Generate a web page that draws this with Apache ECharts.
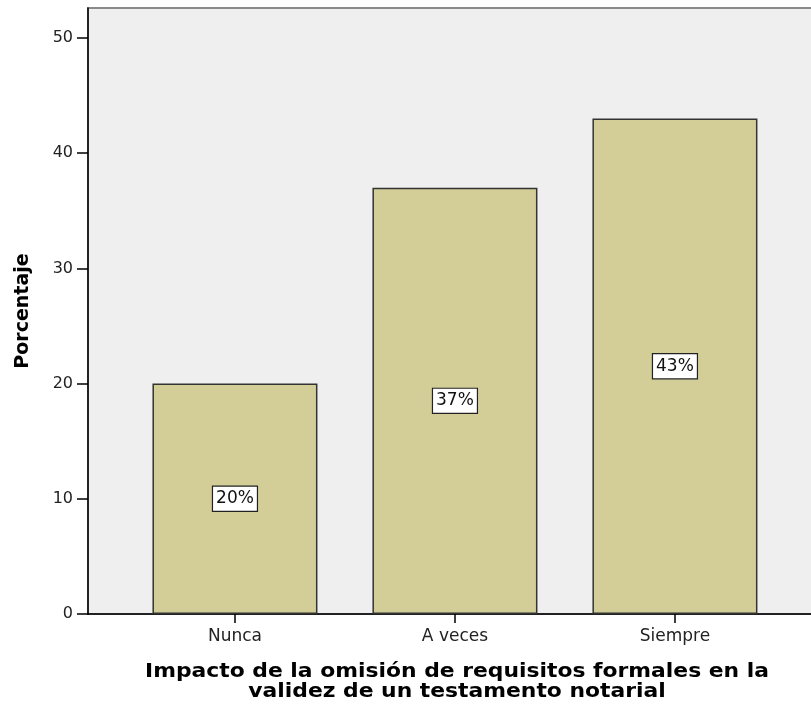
<!DOCTYPE html>
<html><head><meta charset="utf-8">
<script src="https://cdn.jsdelivr.net/npm/echarts@6/dist/echarts.min.js"></script>
<style>html,body{margin:0;padding:0;background:#fff}#c{width:811px;height:706px}</style>
</head><body><div id="c"></div>
<script>
const categories = ['Nunca', 'A veces', 'Siempre'];
const values = [20, 37, 43];
const yTicks = [0, 10, 20, 30, 40, 50];
const xTitle = 'Impacto de la omisión de requisitos formales en la\nvalidez de un testamento notarial';
const yTitle = 'Porcentaje';

const chart = echarts.init(document.getElementById('c'), null, {renderer: 'canvas'});
const catIdx = categories.map((c, i) => i);
chart.setOption({
  animation: false,
  grid: {left: 88, top: 8, width: 735, bottom: 92, outerBoundsMode: 'none', containLabel: false, show: true, backgroundColor: '#efefef', borderColor: '#8a8a8a', borderWidth: 2},
  xAxis: {
    type: 'value', min: -0.668, max: 2.673,
    axisLine: {show: true, onZero: false, lineStyle: {color: '#000', width: 1.5}},
    axisTick: {show: true, customValues: catIdx, length: 9, lineStyle: {color: '#000', width: 1.5}},
    axisLabel: {show: true, customValues: catIdx, formatter: v => categories[Math.round(v)], fontFamily: 'DejaVu Sans', fontSize: 17, color: '#222', margin: 14},
    splitLine: {show: false}
  },
  yAxis: {
    type: 'value', min: 0, max: 52.6,
    name: yTitle, nameLocation: 'middle', nameGap: 55,
    nameTextStyle: {fontFamily: 'DejaVu Sans', fontWeight: 'bold', fontSize: 19, color: '#000'},
    axisLine: {show: true, onZero: false, lineStyle: {color: '#000', width: 1.5}},
    axisTick: {show: true, customValues: yTicks, length: 11, lineStyle: {color: '#000', width: 1.5}},
    axisLabel: {show: true, customValues: yTicks, fontFamily: 'DejaVu Sans', fontSize: 16, color: '#222', margin: 15},
    splitLine: {show: false}
  },
  graphic: [{
    type: 'text', x: 457, y: 662, scaleX: 1.15,
    style: {text: xTitle, textAlign: 'center', textVerticalAlign: 'top', font: 'bold 19px "DejaVu Sans"', fill: '#000', lineHeight: 20}
  }],
  series: [{
    type: 'bar', barWidth: 165,
    data: values.map((v, i) => [i, v]),
    itemStyle: {color: '#d3ce97', borderColor: '#333', borderWidth: 1.5},
    label: {
      show: true, position: 'inside', formatter: p => p.value[1] + '%',
      fontFamily: 'DejaVu Sans', fontSize: 17, color: '#111',
      backgroundColor: '#fff', borderColor: '#222', borderWidth: 1.2, padding: [4, 3, 3, 3]
    }
  }]
});
</script></body></html>
